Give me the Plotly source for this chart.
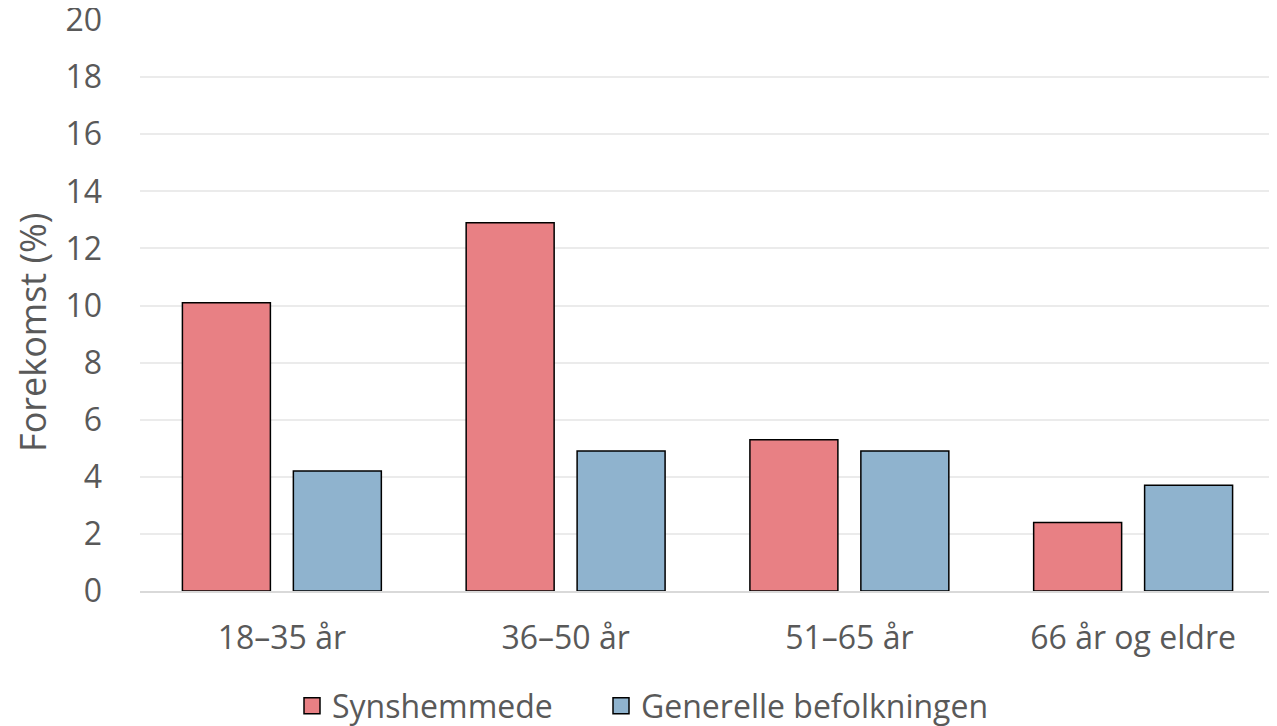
import plotly.graph_objects as go

categories = ["18–35 år", "36–50 år", "51–65 år", "66 år og eldre"]
synshemmede = [10.1, 12.9, 5.3, 2.4]
generelle = [4.2, 4.9, 4.9, 3.7]
series_names = ["Synshemmede", "Generelle befolkningen"]
y_ticks = [0, 2, 4, 6, 8, 10, 12, 14, 16, 18, 20]

FONT = "Open Sans"
TXT = "#595959"
RED = "#E88084"
BLUE = "#8FB3CE"

# page body has an 8px margin, so the figure is sized to fill the rest
W, H = 1269, 718

fig = go.Figure()
fig.add_trace(go.Bar(x=categories, y=synshemmede, name=series_names[0], showlegend=False,
                     marker=dict(color=RED, line=dict(color="black", width=1.5))))
fig.add_trace(go.Bar(x=categories, y=generelle, name=series_names[1], showlegend=False,
                     marker=dict(color=BLUE, line=dict(color="black", width=1.5))))
# legend proxies, one per legend box
for nm, col, lg in zip(series_names, [RED, BLUE], ["legend", "legend2"]):
    fig.add_trace(go.Scatter(x=[categories[0]], y=[None], mode="markers", name=nm,
                             legend=lg,
                             marker=dict(symbol="square", size=22, color=col,
                                         line=dict(color="black", width=1.5))))

fig.add_annotation(text="Forekomst (%)", textangle=-90, xref="paper", yref="paper",
                   x=0, y=0.452, xanchor="center", yanchor="middle", xshift=-107,
                   showarrow=False, font=dict(size=36, color=TXT))

leg_common = dict(orientation="h", xanchor="left", xref="container",
                  y=20 / H, yanchor="middle", yref="container",
                  font=dict(size=32, color=TXT), itemwidth=30,
                  bgcolor="rgba(0,0,0,0)")

fig.update_layout(
    width=W, height=H,
    margin=dict(l=132, r=2, t=12, b=135),
    paper_bgcolor="white", plot_bgcolor="white",
    barmode="group", bargap=0.218, bargroupgap=0.207,
    font=dict(family=FONT, size=32, color=TXT),
    showlegend=True,
    legend=dict(x=284 / W, **leg_common),
    legend2=dict(x=593 / W, **leg_common),
    yaxis=dict(range=[0, 20], tickvals=y_ticks, showgrid=True, gridcolor="#EBEBEB",
               gridwidth=1.5, zeroline=False, showline=False, ticks="",
               ticklabelstandoff=37, automargin=False, ticklabeloverflow="allow"),
    xaxis=dict(showline=True, linecolor="#D9D9D9", linewidth=1.5, ticks="",
               ticklabelstandoff=18, showgrid=False, automargin=False),
)

fig.write_html("out.html")
